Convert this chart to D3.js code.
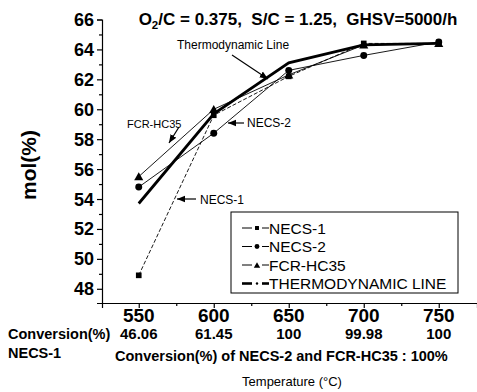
<!DOCTYPE html>
<html lang="en">
<head>
	<script src="https://d3js.org/d3.v7.min.js"></script>
	<style>
		body { margin: 0; background: #fff; }
		text { font-family: "Liberation Sans", Arial, sans-serif; fill: #000; }
	</style>
</head>
<body>
	<script type="text/javascript">

		var svgWidth = 477;
		var svgHeight = 392;

		// data
		var temps = [550, 600, 650, 700, 750];
		var necs1 = [48.9, 59.6, 62.2, 64.4, 64.4];
		var necs2 = [54.8, 58.4, 62.6, 63.6, 64.5];
		var fcr = [55.5, 60.0, 62.3, 64.3, 64.4];
		var thermo = [53.7, 59.7, 63.1, 64.3, 64.4];
		var conversion = ["46.06", "61.45", "100", "99.98", "100"];
		var yTicks = [48, 50, 52, 54, 56, 58, 60, 62, 64, 66];
		var legendNames = ["NECS-1", "NECS-2", "FCR-HC35", "THERMODYNAMIC LINE"];

		var svg = d3.select("body")
			.append("svg")
			.attr("width", svgWidth)
			.attr("height", svgHeight);

		var x = d3.scaleLinear()
			.domain([525.5, 775.5])
			.range([102, 477]);

		var y = d3.scaleLinear()
			.domain([47.05, 66])
			.range([303, 19.5]);

		//x axis, major + minor ticks
		svg.append("g")
			.attr("transform", "translate(0,303)")
			.call(d3.axisBottom(x).tickValues(temps).tickSize(5).tickFormat(""));
		svg.append("g")
			.attr("transform", "translate(0,303)")
			.call(d3.axisBottom(x).tickValues([575, 625, 675, 725]).tickSize(3).tickFormat(""))
			.select(".domain").remove();

		//y axis
		svg.append("g")
			.attr("transform", "translate(102,0)")
			.call(d3.axisLeft(y).tickValues(yTicks).tickSize(5).tickFormat(""));
		svg.append("g")
			.attr("transform", "translate(102,0)")
			.call(d3.axisLeft(y).tickValues(yTicks.slice(0, 9).map(function(d) { return d + 1; })).tickSize(3).tickFormat(""))
			.select(".domain").remove();

		svg.selectAll(".domain, .tick line").attr("stroke", "#000").attr("stroke-width", 1.2);

		//tick labels
		svg.selectAll(".ylab")
			.data(yTicks)
			.enter()
			.append("text")
				.attr("x", 94)
				.attr("y", function(d) { return y(d); })
				.attr("dy", "0.36em")
				.attr("text-anchor", "end")
				.attr("font-size", 18)
				.attr("font-weight", "bold")
				.text(function(d) { return d; });

		svg.selectAll(".xlab")
			.data(temps)
			.enter()
			.append("text")
				.attr("x", function(d) { return x(d); })
				.attr("y", 322)
				.attr("text-anchor", "middle")
				.attr("font-size", 19)
				.attr("font-weight", "bold")
				.text(function(d) { return d; });

		svg.selectAll(".convlab")
			.data(temps)
			.enter()
			.append("text")
				.attr("x", function(d) { return x(d); })
				.attr("y", 339)
				.attr("text-anchor", "middle")
				.attr("font-size", 15)
				.attr("font-weight", "bold")
				.text(function(d, i) { return conversion[i]; });

		svg.append("text").attr("x", 8).attr("y", 339).attr("font-size", 14.5).attr("font-weight", "bold").text("Conversion(%)");
		svg.append("text").attr("x", 8).attr("y", 358).attr("font-size", 14.5).attr("font-weight", "bold").text("NECS-1");
		svg.append("text").attr("x", 115).attr("y", 361).attr("font-size", 14.5).attr("font-weight", "bold").text("Conversion(%) of NECS-2 and FCR-HC35 : 100%");
		svg.append("text").attr("x", 292).attr("y", 386).attr("text-anchor", "middle").attr("font-size", 13).text("Temperature (\u00B0C)");

		svg.append("text")
			.attr("transform", "translate(36,165) rotate(-90)")
			.attr("text-anchor", "middle")
			.attr("font-size", 21)
			.attr("font-weight", "bold")
			.text("mol(%)");

		//title
		var title = svg.append("text")
			.attr("x", 298)
			.attr("y", 25)
			.attr("text-anchor", "middle")
			.attr("font-size", 17)
			.attr("font-weight", "bold");
		title.append("tspan").text("O");
		title.append("tspan").attr("font-size", 11.5).attr("dy", 4).text("2");
		title.append("tspan").attr("dy", -4).text("/C = 0.375,\u00A0\u00A0S/C = 1.25,\u00A0\u00A0GHSV=5000/h");

		//lines
		var line = d3.line()
			.x(function(d, i) { return x(temps[i]); })
			.y(function(d) { return y(d); });

		svg.append("path").datum(thermo).attr("d", line).attr("fill", "none").attr("stroke", "#000").attr("stroke-width", 2.8);
		svg.append("path").datum(fcr).attr("d", line).attr("fill", "none").attr("stroke", "#000").attr("stroke-width", 0.9);
		svg.append("path").datum(necs2).attr("d", line).attr("fill", "none").attr("stroke", "#000").attr("stroke-width", 0.9);
		svg.append("path").datum(necs1).attr("d", line).attr("fill", "none").attr("stroke", "#000").attr("stroke-width", 0.9).attr("stroke-dasharray", "4,2");

		//markers
		var sq = d3.symbol().type(d3.symbolSquare).size(32);
		var ci = d3.symbol().type(d3.symbolCircle).size(38);
		var tr = d3.symbol().type(d3.symbolTriangle).size(36);

		svg.selectAll(".m1").data(necs1).enter().append("path")
			.attr("d", sq).attr("transform", function(d, i) { return "translate(" + x(temps[i]) + "," + y(d) + ")"; });
		svg.selectAll(".m2").data(necs2).enter().append("path")
			.attr("d", ci).attr("transform", function(d, i) { return "translate(" + x(temps[i]) + "," + y(d) + ")"; });
		svg.selectAll(".m3").data(fcr).enter().append("path")
			.attr("d", tr).attr("transform", function(d, i) { return "translate(" + x(temps[i]) + "," + (y(d) + 1) + ")"; });

		//annotations with arrows
		svg.append("defs").append("marker")
			.attr("id", "ah")
			.attr("viewBox", "0 0 10 10")
			.attr("refX", 10).attr("refY", 5)
			.attr("markerWidth", 7).attr("markerHeight", 7)
			.attr("orient", "auto")
			.append("path").attr("d", "M0,1 L10,5 L0,9 Z").attr("fill", "#000");

		function note(label, size, tx, ty, x1, y1, x2, y2) {
			svg.append("text").attr("x", tx).attr("y", ty).attr("font-size", size).text(label);
			svg.append("line")
				.attr("x1", x1).attr("y1", y1).attr("x2", x2).attr("y2", y2)
				.attr("stroke", "#000").attr("stroke-width", 1.2)
				.attr("marker-end", "url(#ah)");
		}
		note("Thermodynamic Line", 12, 177, 49, 232, 55, 268, 79);
		note("FCR-HC35", 11, 127, 128, 179, 127, 169, 143);
		note("NECS-2", 12, 247, 127, 244, 123, 228, 123);
		note("NECS-1", 12, 200, 204, 196, 199, 177, 199);

		//legend
		var lg = svg.append("g");
		lg.append("rect")
			.attr("x", 231).attr("y", 212).attr("width", 227).attr("height", 81)
			.attr("fill", "#fff").attr("stroke", "#000").attr("stroke-width", 1);

		var rowY = function(i) { return 228 + i * 18.5; };
		var markers = [sq, ci, tr];
		legendNames.forEach(function(name, i) {
			var yy = rowY(i);
			if (i < 3) {
				lg.append("line").attr("x1", 242).attr("x2", 252).attr("y1", yy).attr("y2", yy).attr("stroke", "#000").attr("stroke-width", 1);
				lg.append("line").attr("x1", 262).attr("x2", 269).attr("y1", yy).attr("y2", yy).attr("stroke", "#000").attr("stroke-width", 1);
				lg.append("path").attr("d", markers[i]).attr("transform", "translate(257," + (yy + (i == 2 ? 1 : 0)) + ") scale(0.7)");
			} else {
				lg.append("line").attr("x1", 242).attr("x2", 252).attr("y1", yy).attr("y2", yy).attr("stroke", "#000").attr("stroke-width", 2.6);
				lg.append("circle").attr("cx", 257).attr("cy", yy).attr("r", 1.2);
				lg.append("line").attr("x1", 262).attr("x2", 269).attr("y1", yy).attr("y2", yy).attr("stroke", "#000").attr("stroke-width", 2.6);
			}
			lg.append("text").attr("x", 269).attr("y", yy).attr("dy", "0.36em").attr("font-size", 15.5).text(name);
		});

	</script>
</body>
</html>
